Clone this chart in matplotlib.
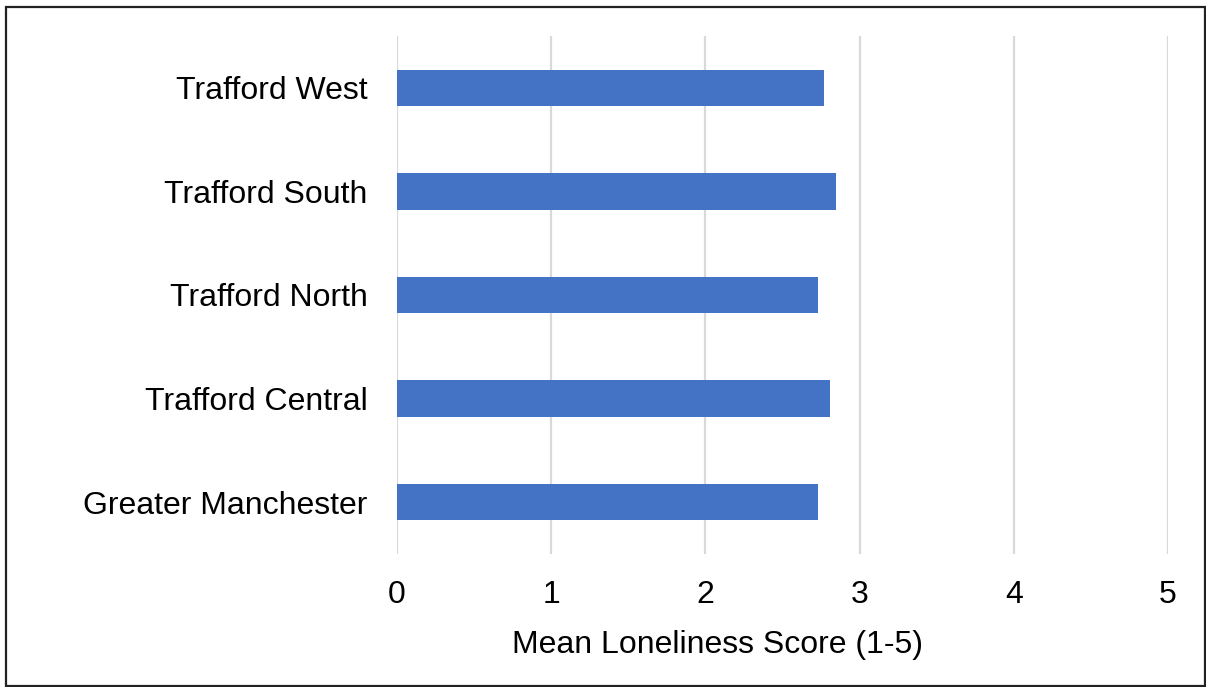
import matplotlib.pyplot as plt
from matplotlib.patches import Rectangle

# Mean loneliness score by area
areas = ['Greater Manchester', 'Trafford Central', 'Trafford North',
         'Trafford South', 'Trafford West']
scores = [2.73, 2.81, 2.73, 2.85, 2.77]
x_ticks = [0, 1, 2, 3, 4, 5]

plt.rcParams['font.family'] = ['Liberation Sans', 'DejaVu Sans']

W, H = 1206, 687
fig = plt.figure(figsize=(W / 100, H / 100), dpi=100)
ax = fig.add_axes([397 / W, 1 - 554 / H, (1168 - 397) / W, (554 - 36) / H])

ax.barh(areas, scores, height=0.35, color='#4472C4', zorder=3)

ax.set_xlim(0, 5)
ax.set_ylim(-0.5, 4.5)
ax.set_xticks(x_ticks)
ax.grid(axis='x', color='#d9d9d9', linewidth=1.6, zorder=0)
ax.grid(axis='y', visible=False)
for spine in ax.spines.values():
    spine.set_visible(False)
ax.tick_params(axis='both', length=0, labelsize=23)
ax.tick_params(axis='x', pad=19)
ax.tick_params(axis='y', pad=21)

fig.text(717 / W, 1 - 645 / H, 'Mean Loneliness Score (1-5)',
         ha='center', va='center', fontsize=23)

# Outer border around the chart
fig.patches.append(Rectangle((6 / W, 1 - 686 / H), (1205 - 6) / W, (686 - 7) / H,
                             transform=fig.transFigure, fill=False,
                             edgecolor='#222222', linewidth=1.6))

fig.savefig('out.png', dpi=100)
